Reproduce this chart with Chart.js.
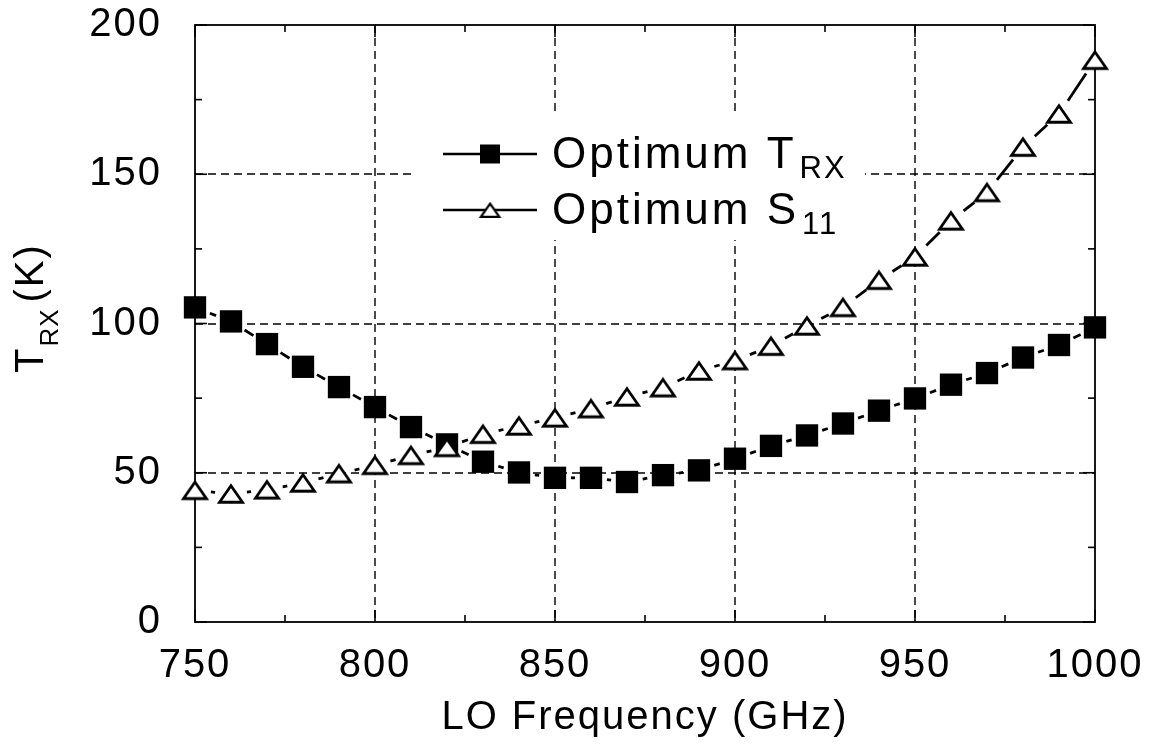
<!DOCTYPE html>
<html>
<head>
<meta charset="utf-8">
<title>Optimum T_RX x LO Frequency</title>
<script src="https://cdn.jsdelivr.net/npm/chart.js@4.4.1/dist/chart.umd.min.js"></script>
<style>
    html, body { margin: 0; padding: 0; background: #fff; }
    #wrap { width: 1150px; height: 755px; position: relative; }
</style>
</head>
<body>
<div id="wrap"><canvas id="graficoTrx"></canvas></div>
<script>
// LO frequency (GHz)
const frequencias = [750, 760, 770, 780, 790, 800, 810, 820, 830, 840, 850, 860, 870,
    880, 890, 900, 910, 920, 930, 940, 950, 960, 970, 980, 990, 1000];

// Receiver temperature (K) for the two tuning criteria
const trxOptimumTrx = [105.4, 100.7, 93.1, 85.5, 78.7, 72.0, 65.3, 59.5, 53.7, 50.1, 48.3, 48.3, 46.9,
    49.2, 50.8, 54.7, 59.0, 62.5, 66.5, 70.8, 74.9, 79.5, 83.4, 88.6, 92.8, 98.7];
const trxOptimumS11 = [44.1, 42.9, 44.3, 46.6, 49.7, 52.5, 55.8, 58.5, 62.9, 65.7, 68.4, 71.5, 75.4,
    78.5, 84.1, 87.6, 92.4, 99.2, 105.4, 114.5, 122.3, 134.4, 143.9, 159.1, 170.2, 188.2];

// axis ticks
const ticksX = [750, 800, 850, 900, 950, 1000];
const ticksY = [0, 50, 100, 150, 200];
const ticksMenoresX = [775, 825, 875, 925, 975];
const ticksMenoresY = [25, 75, 125, 175];

const FONTE = '"Liberation Sans", Arial, Helvetica, sans-serif';
const FOLGA = 16; // line stops short of each marker

// open triangle marker (slightly flattened, like the original plot)
function criarTriangulo(escala) {
    const c = document.createElement('canvas');
    c.width = Math.round(34 * escala);
    c.height = Math.round(28 * escala);
    const g = c.getContext('2d');
    g.scale(escala, escala);
    g.beginPath();
    g.moveTo(17, 5.75);
    g.lineTo(28.5, 22.25);
    g.lineTo(5.5, 22.25);
    g.closePath();
    g.fillStyle = '#fff';
    g.fill();
    g.lineWidth = 2.8;
    g.strokeStyle = '#000';
    g.stroke();
    return c;
}
const trianguloGrafico = criarTriangulo(1);
const trianguloLegenda = criarTriangulo(0.8);

// dash pattern per segment: gap, visible part, gap (period = segment length)
function tracoComFolga(ctx) {
    const L = Math.hypot(ctx.p1.x - ctx.p0.x, ctx.p1.y - ctx.p0.y);
    const visivel = Math.max(L - 2 * FOLGA, 0.01);
    return [0, FOLGA, visivel, Math.max(L - FOLGA - visivel, 0.01)];
}

// frame, inward ticks and dashed grid
const pluginMoldura = {
    id: 'moldura',
    beforeDraw(chart) {
        chart.ctx.letterSpacing = '2px';
    },
    beforeDatasetsDraw(chart) {
        const { ctx, chartArea: a, scales: { x, y } } = chart;
        ctx.save();
        ctx.strokeStyle = '#000';

        const linha = (x1, y1, x2, y2) => {
            ctx.beginPath();
            ctx.moveTo(x1, y1);
            ctx.lineTo(x2, y2);
            ctx.stroke();
        };

        // 1. dashed grid on the inner major ticks
        ctx.lineWidth = 1.4;
        ctx.setLineDash([8, 5]);
        ticksX.slice(1, -1).forEach(v => {
            const px = Math.round(x.getPixelForValue(v));
            linha(px, a.top, px, a.bottom);
        });
        ticksY.slice(1, -1).forEach(v => {
            const py = Math.round(y.getPixelForValue(v));
            linha(a.left, py, a.right, py);
        });
        ctx.setLineDash([]);

        // 2. ticks pointing inwards
        ctx.lineWidth = 1.6;
        ticksX.forEach(v => {
            const px = x.getPixelForValue(v);
            linha(px, a.bottom, px, a.bottom - 12);
            linha(px, a.top, px, a.top + 12);
        });
        ticksMenoresX.forEach(v => {
            const px = x.getPixelForValue(v);
            linha(px, a.bottom, px, a.bottom - 7);
            linha(px, a.top, px, a.top + 7);
        });
        ticksY.forEach(v => {
            const py = y.getPixelForValue(v);
            linha(a.left, py, a.left + 12, py);
            linha(a.right, py, a.right - 12, py);
        });
        ticksMenoresY.forEach(v => {
            const py = y.getPixelForValue(v);
            linha(a.left, py, a.left + 7, py);
            linha(a.right, py, a.right - 7, py);
        });

        // 3. frame
        ctx.lineWidth = 1.8;
        ctx.strokeRect(a.left, a.top, a.right - a.left, a.bottom - a.top);
        ctx.restore();
    }
};

// legend and axis titles (they need subscripts, so drawn by hand)
const pluginTextos = {
    id: 'textos',
    afterDatasetsDraw(chart) {
        const ctx = chart.ctx;
        ctx.save();

        // legend box hides the grid behind it
        ctx.fillStyle = '#fff';
        ctx.fillRect(412, 112, 453, 128);

        const linhas = [
            { y: 154, base: 168, texto: 'Optimum T', sub: 'RX', marcador: 'quadrado' },
            { y: 210, base: 224, texto: 'Optimum S', sub: '11', marcador: 'triangulo' }
        ];
        linhas.forEach(l => {
            ctx.strokeStyle = '#000';
            ctx.lineWidth = 2.5;
            ctx.beginPath();
            ctx.moveTo(443, l.y);
            ctx.lineTo(537, l.y);
            ctx.stroke();
            if (l.marcador === 'quadrado') {
                ctx.fillStyle = '#000';
                ctx.fillRect(490 - 10, l.y - 9.5, 20, 19);
            } else {
                ctx.drawImage(trianguloLegenda, 490 - trianguloLegenda.width / 2, l.y - trianguloLegenda.height / 2);
            }
            ctx.fillStyle = '#000';
            ctx.textAlign = 'left';
            ctx.textBaseline = 'alphabetic';
            ctx.font = '44px ' + FONTE;
            ctx.letterSpacing = '3px';
            ctx.fillText(l.texto, 552, l.base);
            const w = ctx.measureText(l.texto).width;
            ctx.font = '31px ' + FONTE;
            ctx.letterSpacing = '2px';
            ctx.fillText(l.sub, 552 + w + 3, l.base + 10);
        });

        // x title
        ctx.font = '40px ' + FONTE;
        ctx.letterSpacing = '2px';
        ctx.textAlign = 'center';
        ctx.fillText('LO Frequency (GHz)', 645, 729);

        // y title, rotated
        ctx.translate(43, 373);
        ctx.rotate(-Math.PI / 2);
        ctx.textAlign = 'left';
        ctx.font = '40px ' + FONTE;
        ctx.fillText('T', 0, 0);
        let pos = ctx.measureText('T').width;
        ctx.font = '26px ' + FONTE;
        ctx.letterSpacing = '1px';
        ctx.fillText('RX', pos, 15);
        pos += ctx.measureText('RX').width + 6;
        ctx.font = '40px ' + FONTE;
        ctx.letterSpacing = '2px';
        ctx.fillText('(K)', pos, 0);

        ctx.restore();
    }
};

function initChart() {
    const ctx = document.getElementById('graficoTrx').getContext('2d');
    window.chartTrx = new Chart(ctx, {
        type: 'line',
        data: {
            labels: frequencias,
            datasets: [
                {
                    label: 'Optimum S11',
                    data: frequencias.map((f, i) => ({ x: f, y: trxOptimumS11[i] })),
                    order: 0,
                    borderColor: '#000', borderWidth: 2.8, tension: 0, clip: false,
                    pointStyle: trianguloGrafico, pointRadius: 12, pointHoverRadius: 12,
                    segment: { borderDash: tracoComFolga }
                },
                {
                    label: 'Optimum TRX',
                    data: frequencias.map((f, i) => ({ x: f, y: trxOptimumTrx[i] })),
                    order: 1,
                    borderColor: '#000', borderWidth: 2.8, tension: 0, clip: false,
                    pointStyle: 'rect', pointRadius: 15.8, pointHoverRadius: 15.8,
                    pointBackgroundColor: '#000', pointBorderColor: '#000', pointBorderWidth: 0,
                    segment: { borderDash: tracoComFolga }
                }
            ]
        },
        options: {
            responsive: true, maintainAspectRatio: false, animation: false,
            events: [],
            layout: { padding: { top: 25, right: 55, left: 0, bottom: 0 } },
            plugins: { legend: { display: false }, tooltip: { enabled: false } },
            scales: {
                x: {
                    type: 'linear', min: 750, max: 1000,
                    grid: { display: false, drawTicks: false }, border: { display: false },
                    ticks: { stepSize: 50, autoSkip: false, maxRotation: 0, padding: 20,
                        color: '#000', font: { family: FONTE, size: 40 },
                        callback: v => String(v) },
                    afterFit: s => { s.height = 133; s.paddingLeft = 0; s.paddingRight = 0; }
                },
                y: {
                    min: 0, max: 200,
                    grid: { display: false, drawTicks: false }, border: { display: false },
                    ticks: { stepSize: 50, padding: 33, color: '#000', font: { family: FONTE, size: 40 },
                        callback: v => String(v) },
                    afterFit: s => { s.width = 195; s.paddingTop = 0; s.paddingBottom = 0; }
                }
            }
        },
        plugins: [pluginMoldura, pluginTextos]
    });
}

window.onload = initChart;
</script>
</body>
</html>
